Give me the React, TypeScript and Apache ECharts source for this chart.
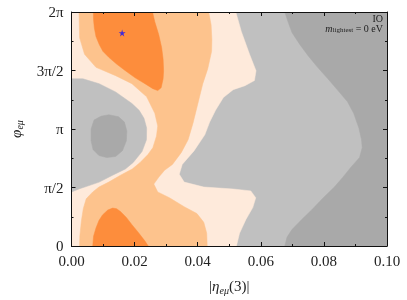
import React, { useEffect, useRef } from "react";
import * as echarts from "echarts";

// x: |eta_emu(3)|, y: phi_emu in units of pi
const xTicks = [0, 0.02, 0.04, 0.06, 0.08, 0.1];
const yTickLabels: Record<string, string> = { "0": "0", "0.5": "π/2", "1": "π", "1.5": "3π/2", "2": "2π" };

// Contour region boundaries ([x, phi/pi])
const rightDark = [
  [0.06761, 2], [0.06863, 1.916], [0.06988, 1.824], [0.07236, 1.723], [0.07506, 1.624], [0.07795, 1.529],
  [0.08127, 1.429], [0.08447, 1.328], [0.08748, 1.233], [0.08944, 1.134], [0.09109, 1.008], [0.09193, 0.908],
  [0.09214, 0.84], [0.0913, 0.756], [0.08851, 0.672], [0.08602, 0.588], [0.08332, 0.504], [0.07981, 0.412],
  [0.07609, 0.308], [0.07298, 0.227], [0.06988, 0.14], [0.06832, 0.076], [0.06761, 0], [0.1, 0], [0.1, 2],
];
const creamArea = [
  [0, 0], [0, 2], [0.05208, 2], [0.05382, 1.834], [0.05643, 1.639], [0.05848, 1.498], [0.05798, 1.414],
  [0.05497, 1.37], [0.05124, 1.336], [0.04814, 1.269], [0.04565, 1.16], [0.04379, 1.059], [0.04224, 0.95],
  [0.03882, 0.813], [0.03509, 0.697], [0.03416, 0.613], [0.03571, 0.546], [0.04193, 0.504], [0.05124, 0.487],
  [0.05683, 0.471], [0.05839, 0.412], [0.05745, 0.328], [0.05528, 0.227], [0.05326, 0.109], [0.05227, 0],
];
const grayLobe = [
  [0, 1.429], [0.00363, 1.429], [0.00879, 1.387], [0.01398, 1.317], [0.01916, 1.218], [0.02143, 1.16],
  [0.02298, 1.092], [0.02382, 1.008], [0.02376, 0.908], [0.02236, 0.807], [0.01957, 0.714], [0.01708, 0.658],
  [0.01304, 0.605], [0.00879, 0.546], [0.00466, 0.508], [0.00258, 0.49], [0, 0.462],
];
const darkIsland = [
  [0.0118, 1.122], [0.01491, 1.105], [0.01677, 1.059], [0.01755, 0.983], [0.01739, 0.899], [0.01615, 0.815],
  [0.01398, 0.765], [0.01118, 0.756], [0.0087, 0.773], [0.00683, 0.824], [0.00621, 0.899], [0.00621, 1.0],
  [0.00714, 1.076], [0.00932, 1.109],
];
const mediumArea = [
  [0.00239, 2], [0.04348, 2], [0.04425, 1.891], [0.0445, 1.765], [0.04441, 1.664], [0.04317, 1.513],
  [0.04161, 1.387], [0.04006, 1.218], [0.03851, 1.05], [0.03696, 0.908], [0.03478, 0.798], [0.03199, 0.697],
  [0.0295, 0.647], [0.02764, 0.588], [0.02609, 0.529], [0.02733, 0.462], [0.03106, 0.412], [0.03571, 0.336],
  [0.03975, 0.277], [0.04193, 0.202], [0.04286, 0.109], [0.04301, 0], [0.00258, 0], [0.00264, 0.084],
  [0.00311, 0.21], [0.00373, 0.319], [0.00466, 0.403], [0.00674, 0.462], [0.0087, 0.504], [0.0118, 0.546],
  [0.01553, 0.605], [0.01925, 0.658], [0.02174, 0.714], [0.02422, 0.782], [0.02578, 0.84], [0.02693, 0.939],
  [0.02733, 1.025], [0.0264, 1.134], [0.02382, 1.275], [0.01916, 1.387], [0.01398, 1.456], [0.00776, 1.527],
  [0.00413, 1.639], [0.00258, 1.779],
];
const topDark = [
  [0.00693, 2], [0.00699, 1.933], [0.00724, 1.863], [0.00776, 1.79], [0.00879, 1.723], [0.00994, 1.664],
  [0.01189, 1.611], [0.01429, 1.555], [0.01708, 1.498], [0.02019, 1.437], [0.02329, 1.387], [0.02578, 1.345],
  [0.02733, 1.328], [0.02842, 1.353], [0.02904, 1.429], [0.02919, 1.498], [0.02904, 1.597], [0.02857, 1.697],
  [0.02764, 1.807], [0.0264, 1.916], [0.02568, 2],
];
const bottomDark = [
  [0.00674, 0], [0.00699, 0.084], [0.00776, 0.154], [0.0087, 0.218], [0.00984, 0.266], [0.01149, 0.307],
  [0.01304, 0.324], [0.01429, 0.319], [0.01553, 0.294], [0.01739, 0.244], [0.01916, 0.182], [0.02112, 0.118],
  [0.02329, 0.042], [0.02432, 0],
];
const bestFit = [[0.01605, 1.821]];

const COLORS = {
  gray: "#c0c0c0",
  darkGray: "#a9a9a9",
  cream: "#feeadb",
  medium: "#fdc38d",
  dark: "#fd8d3c",
};

const regions = [
  { pts: rightDark, color: COLORS.darkGray },
  { pts: creamArea, color: COLORS.cream },
  { pts: grayLobe, color: COLORS.gray },
  { pts: darkIsland, color: COLORS.darkGray },
  { pts: mediumArea, color: COLORS.medium },
  { pts: topDark, color: COLORS.dark },
  { pts: bottomDark, color: COLORS.dark },
];

const SERIF = "'Liberation Serif', 'DejaVu Serif', serif";

export default function App() {
  const ref = useRef<HTMLDivElement>(null);
  useEffect(() => {
    if (!ref.current) return;
    const chart = echarts.init(ref.current, undefined, { renderer: "svg" });
    const axisCommon = {
      z: 10,
      axisLine: { show: true, onZero: false, lineStyle: { color: "#111", width: 1 } },
      axisTick: { show: true, inside: true, length: 4, lineStyle: { color: "#111" } },
      minorTick: { show: true, splitNumber: 2, length: 2, lineStyle: { color: "#111" } },
      splitLine: { show: false },
      minorSplitLine: { show: false },
    };
    chart.setOption({
      animation: false,
      grid: { left: 65, right: 20, top: 12, bottom: 50, show: true, backgroundColor: COLORS.gray, borderWidth: 0 },
      xAxis: [
        {
          type: "value", min: 0, max: 0.1, interval: 0.02, position: "bottom", ...axisCommon,
          axisLabel: {
            formatter: (v: number) => (xTicks.some((t) => Math.abs(t - v) < 1e-9) ? v.toFixed(2) : ""),
            fontFamily: SERIF, fontSize: 15, color: "#222", margin: 7,
          },
          name: "{n||}{it|η}{sub|eμ}{n|(3)|}",
          nameLocation: "middle", nameGap: 31,
          nameTextStyle: {
            rich: {
              n: { fontFamily: SERIF, fontSize: 15, color: "#222" },
              it: { fontFamily: SERIF, fontSize: 15, fontStyle: "italic", color: "#222" },
              sub: { fontFamily: SERIF, fontSize: 10, fontStyle: "italic", color: "#222", padding: [8, 0, 0, 0] },
            },
          },
        },
        {
          type: "value", min: 0, max: 0.1, interval: 0.02, position: "top", ...axisCommon,
          axisLabel: { show: false },
        },
      ],
      yAxis: [
        {
          type: "value", min: 0, max: 2, interval: 0.5, position: "left", ...axisCommon,
          axisLabel: {
            formatter: (v: number) => yTickLabels[String(v)] ?? "",
            fontFamily: SERIF, fontSize: 15, color: "#222", margin: 8,
          },
          name: "{it|φ}{sub|eμ}",
          nameLocation: "middle", nameGap: 47, nameRotate: 90,
          nameTextStyle: {
            rich: {
              it: { fontFamily: SERIF, fontSize: 15, fontStyle: "italic", color: "#222" },
              sub: { fontFamily: SERIF, fontSize: 10, fontStyle: "italic", color: "#222", padding: [8, 0, 0, 0] },
            },
          },
        },
        {
          type: "value", min: 0, max: 2, interval: 0.5, position: "right", ...axisCommon,
          axisLabel: { show: false },
        },
      ],
      graphic: [
        {
          type: "text", right: 24, top: 13, z: 100,
          style: { text: "IO", fontFamily: SERIF, fontSize: 10, lineHeight: 9, fill: "#222" },
        },
        {
          type: "text", right: 24, top: 23, z: 100,
          style: {
            text: "{m|m}{s|lightest}{n| = 0 eV}",
            rich: {
              m: { fontFamily: SERIF, fontSize: 10, lineHeight: 9, fontStyle: "italic", fill: "#222" },
              s: { fontFamily: SERIF, fontSize: 7, lineHeight: 7, fill: "#222", padding: [3, 0, 0, 0] },
              n: { fontFamily: SERIF, fontSize: 10, lineHeight: 9, fill: "#222" },
            },
          },
        },
      ],
      series: [
        {
          type: "custom",
          clip: true,
          xAxisIndex: 0,
          yAxisIndex: 0,
          data: regions.map((r) => r.pts[0]),
          renderItem: (params: any, api: any) => {
            const r = regions[params.dataIndex];
            const points = r.pts.map((p) => api.coord(p));
            return {
              type: "polygon",
              shape: { points },
              style: { fill: r.color, stroke: r.color, lineWidth: 0.5 },
            };
          },
          silent: true,
          z: 1,
        },
        {
          type: "scatter",
          data: bestFit,
          symbol: "path://M50,0 L61,35 L98,35 L68,57 L79,91 L50,70 L21,91 L32,57 L2,35 L39,35 Z",
          symbolSize: 7,
          itemStyle: { color: "#1010ff" },
          z: 5,
        },
      ],
    });
    return () => chart.dispose();
  }, []);
  return <div ref={ref} style={{ position: "fixed", left: 0, top: 0, width: 407, height: 300 }} />;
}
